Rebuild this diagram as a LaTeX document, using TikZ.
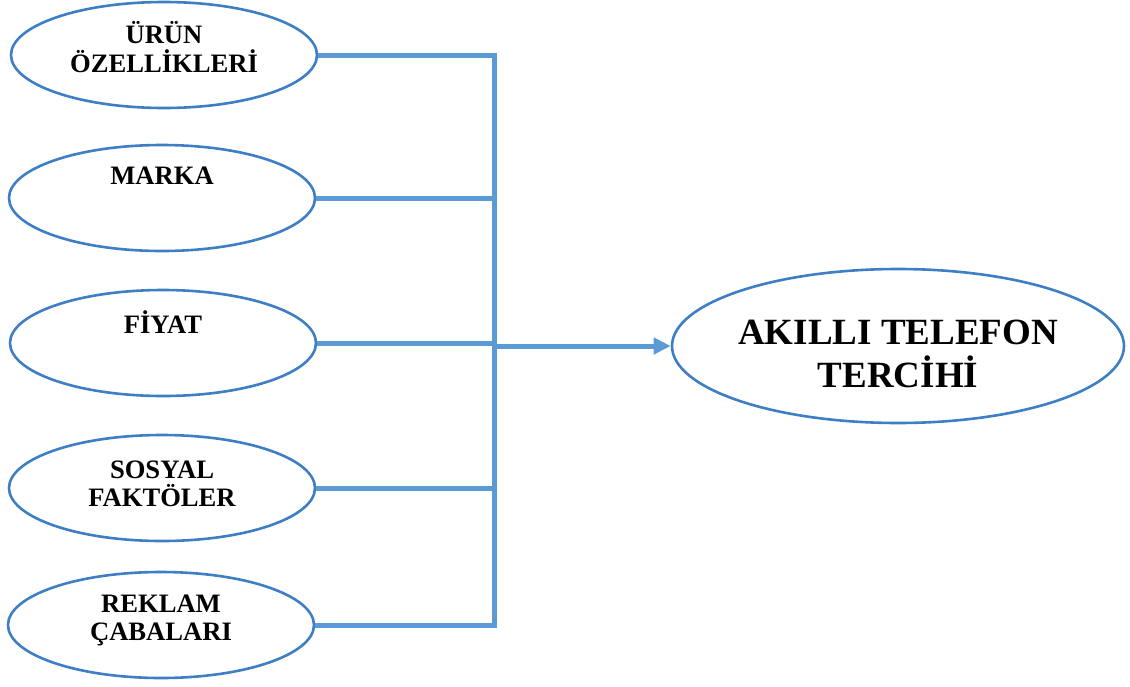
\documentclass[tikz,border=0pt]{standalone}
\usepackage{fontspec}
\setmainfont{Liberation Serif}
\usetikzlibrary{shapes.geometric,arrows.meta}
\definecolor{ellcol}{RGB}{62,126,196}
\definecolor{concol}{RGB}{91,155,213}
\tikzset{
  oval/.style={ellipse, draw=ellcol, line width=2.6pt, inner sep=0pt, minimum width=306pt, minimum height=106pt},
  bigoval/.style={ellipse, draw=ellcol, line width=2.6pt, inner sep=0pt, minimum width=452pt, minimum height=154pt},
  lbl/.style={anchor=base, inner sep=0pt, font=\fontsize{26.6}{28}\selectfont\bfseries},
  biglbl/.style={anchor=base, inner sep=0pt, font=\fontsize{37}{40}\selectfont\bfseries},
  conn/.style={draw=concol, line width=5pt},
}
\begin{document}
\begin{tikzpicture}[x=1pt,y=-1pt]
\useasboundingbox (0,0) rectangle (1130,686);
\node[oval] (e1) at (164,55) {};
\node[oval] (e2) at (162,198) {};
\node[oval] (e3) at (163,343) {};
\node[oval] (e4) at (162,488) {};
\node[oval] (e5) at (161,625) {};
\node[bigoval] (main) at (898,346) {};
\coordinate (bx) at (494.5,0);
% labels
\node[lbl] (t1a) at (164,43) {ÜRÜN};
\node[lbl] (t1b) at (164,72) {ÖZELLİKLERİ};
\node[lbl] (t2) at (162,184) {MARKA};
\node[lbl] (t3) at (163,333) {FİYAT};
\node[lbl] (t4a) at (162,478) {SOSYAL};
\node[lbl] (t4b) at (162,506) {FAKTÖLER};
\node[lbl] (t5a) at (161,612) {REKLAM};
\node[lbl] (t5b) at (161,640) {ÇABALARI};
\node[biglbl] (m1) at (898,344) {AKILLI TELEFON};
\node[biglbl] (m2) at (898,387) {TERCİHİ};
% connectors
\draw[conn] (e1.east) -- (e1.east -| bx) -- (e5.east -| bx) -- (e5.east);
\draw[conn] (e2.east) -- (e2.east -| bx);
\draw[conn] (e3.east) -- (e3.east -| bx);
\draw[conn] (e4.east) -- (e4.east -| bx);
\draw[conn, -{Triangle[length=17pt,width=16pt]}] (main.west -| bx) -- (main.west);
\end{tikzpicture}
\end{document}
